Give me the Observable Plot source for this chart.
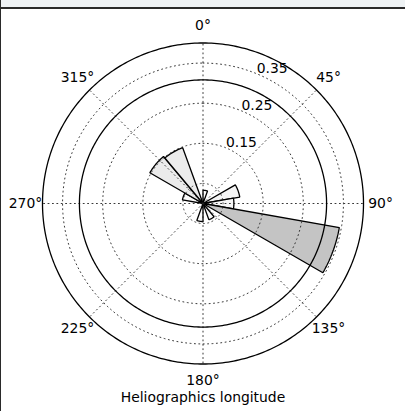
<!DOCTYPE html>
<html>
<head>
<meta charset="utf-8">
<script src="https://cdn.jsdelivr.net/npm/d3@7"></script>
<script src="https://cdn.jsdelivr.net/npm/@observablehq/plot@0.6"></script>
<style>
  html, body { margin: 0; padding: 0; }
  body {
    width: 405px; height: 411px; overflow: hidden;
    background:
      linear-gradient(to right, #2a2a2a 0 1.5px, transparent 1.5px),
      linear-gradient(to bottom, #eef2f4 0 7.5px, #2a2a2a 7.5px 9.5px, #ffffff 9.5px);
  }
  #chart svg { display: block; background: transparent; }
</style>
</head>
<body>
<div id="chart"></div>
<script>
// ---- data ----
const binStarts = [0, 20, 40, 60, 80, 100, 120, 140, 160, 180, 200, 220, 240, 260, 280, 300, 320, 340];
const binWidth = 20;
const binValues = [0.033, 0, 0, 0.093, 0.077, 0.345, 0, 0.043, 0, 0.045, 0, 0, 0, 0, 0.052, 0.153, 0.148, 0];
const angleTicks = [0, 45, 90, 135, 180, 225, 270, 315];
const angleLabels = ["0°", "45°", "90°", "135°", "180°", "225°", "270°", "315°"];
const radialGrid = [0.05, 0.15, 0.25, 0.35];
const radialLabelTicks = [0.15, 0.25, 0.35];
const radialLabels = ["0.15", "0.25", "0.35"];
const radialMax = 0.4;
const referenceRadius = 0.308;
const xLabel = "Heliographics longitude";

// matplotlib "Greys" colormap stops
const greysStops = [0, 0.125, 0.25, 0.375, 0.5, 0.625, 0.75, 0.875, 1];
const greysColors = ["#ffffff", "#f0f0f0", "#d9d9d9", "#bdbdbd", "#969696", "#737373", "#525252", "#252525", "#000000"];

// ---- polar helpers (compass: 0° up, clockwise) ----
const rad = (deg) => deg * Math.PI / 180;
const px = (deg, r) => r * Math.sin(rad(deg));
const py = (deg, r) => r * Math.cos(rad(deg));

// wedges
const wedgePts = [];
binStarts.forEach((a0, i) => {
  const v = binValues[i];
  if (!(v > 0)) return;
  wedgePts.push({id: i, v, x: 0, y: 0});
  for (let a = a0; a <= a0 + binWidth + 1e-9; a += 0.5) {
    wedgePts.push({id: i, v, x: px(a, v), y: py(a, v)});
  }
  wedgePts.push({id: i, v, x: 0, y: 0});
});

// circles
function circlePts(rs) {
  const out = [];
  rs.forEach((r, k) => {
    for (let a = 0; a <= 360; a += 1) out.push({id: k, x: px(a, r), y: py(a, r)});
  });
  return out;
}
const gridCircles = circlePts(radialGrid);
const solidCircles = circlePts([radialMax, referenceRadius]);

// radial spokes
const spokes = [];
angleTicks.forEach((a, k) => {
  spokes.push({id: k, x: 0, y: 0});
  spokes.push({id: k, x: px(a, radialMax), y: py(a, radialMax)});
});

const labelR = radialMax * 1.106;
const angleText = angleTicks.map((a, i) => ({x: px(a, labelR), y: py(a, labelR), t: angleLabels[i]}));
const rText = radialLabelTicks.map((r, i) => ({x: px(22.5, r), y: py(22.5, r), t: radialLabels[i]}));

const plot = Plot.plot({
  width: 405,
  height: 411,
  margin: 0,
  x: {domain: [-radialMax, radialMax], range: [42, 363], axis: null},
  y: {domain: [-radialMax, radialMax], range: [363.5, 42.5], axis: null},
  color: {type: "linear", domain: greysStops, range: greysColors},
  style: {fontFamily: "'DejaVu Sans', sans-serif", fontSize: "13.9px", color: "#000", background: "transparent"},
  marks: [
    Plot.line(wedgePts, {x: "x", y: "y", z: "id", fill: "v", stroke: "#000", strokeWidth: 1.3, strokeLinejoin: "miter", curve: "linear"}),
    Plot.line(gridCircles, {x: "x", y: "y", z: "id", stroke: "#222", strokeWidth: 0.9, strokeDasharray: "1,3.4"}),
    Plot.line(spokes, {x: "x", y: "y", z: "id", stroke: "#222", strokeWidth: 0.9, strokeDasharray: "1,3.4"}),
    Plot.line(solidCircles, {x: "x", y: "y", z: "id", stroke: "#000", strokeWidth: 1.3}),
    Plot.text(angleText, {x: "x", y: "y", text: "t", textAnchor: "middle", lineAnchor: "middle", fill: "#000"}),
    Plot.text(rText, {x: "x", y: "y", text: "t", textAnchor: "start", lineAnchor: "bottom", dy: -1, fill: "#000"}),
    Plot.text([xLabel], {text: d => d, frameAnchor: "bottom", lineAnchor: "middle", dy: -13.5, fill: "#000"})
  ]
});
document.getElementById("chart").appendChild(plot);
</script>
</body>
</html>
